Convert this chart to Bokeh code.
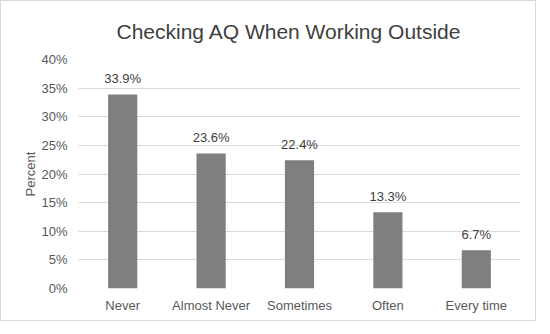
from bokeh.plotting import figure
from bokeh.models import ColumnDataSource, LabelSet, FixedTicker, CustomJSTickFormatter
from bokeh.embed import file_html
from bokeh.resources import INLINE
from bokeh.core.properties import value

title_text = "Checking AQ When Working Outside"
categories = ["Never", "Almost Never", "Sometimes", "Often", "Every time"]
percents = [33.9, 23.6, 22.4, 13.3, 6.7]
labels = ["33.9%", "23.6%", "22.4%", "13.3%", "6.7%"]
y_ticks = [0, 5, 10, 15, 20, 25, 30, 35, 40]

FONT = "Liberation Sans"

src = ColumnDataSource(dict(cat=categories, val=percents, lab=labels))

p = figure(x_range=categories, y_range=(0, 40), width=536, height=321,
           output_backend="svg", toolbar_location=None,
           min_border_left=77, min_border_right=17, min_border_top=56, min_border_bottom=34)
p.styles = {"border": "1px solid #d9d9d9"}

p.title.text = title_text
p.title.text_font = FONT
p.title.text_font_size = "21px"
p.title.text_font_style = "normal"
p.title.text_color = "#404040"
p.title.align = "left"
p.title.offset = 38
p.title.standoff = 33

p.vbar(x="cat", top="val", width=0.33, source=src, color="#7f7f7f", line_color=None)

lbl = LabelSet(x="cat", y="val", text="lab", source=src, text_align="center",
               text_baseline="middle", y_offset=16, text_font_size="13px",
               text_color="#404040", text_font=value(FONT))
p.add_layout(lbl)

p.yaxis.ticker = FixedTicker(ticks=y_ticks)
p.yaxis.formatter = CustomJSTickFormatter(code="return tick + '%';")
p.yaxis.axis_label = "Percent"
p.yaxis.axis_label_text_font = FONT
p.yaxis.axis_label_text_font_style = "normal"
p.yaxis.axis_label_text_font_size = "13px"
p.yaxis.axis_label_text_color = "#595959"
p.yaxis.axis_label_standoff = 0

for ax in (p.xaxis, p.yaxis):
    ax.axis_line_color = None
    ax.major_tick_line_color = None
    ax.minor_tick_line_color = None
    ax.major_label_text_font = FONT
    ax.major_label_text_font_size = "13px"
    ax.major_label_text_color = "#595959"
p.xaxis.major_label_standoff = 3
p.yaxis.major_label_standoff = 5

p.xgrid.grid_line_color = None
p.ygrid.grid_line_color = "#d9d9d9"
p.ygrid.ticker = FixedTicker(ticks=y_ticks)
p.outline_line_color = None
p.x_range.range_padding = 0

open("out.html", "w").write(file_html(p, INLINE))
